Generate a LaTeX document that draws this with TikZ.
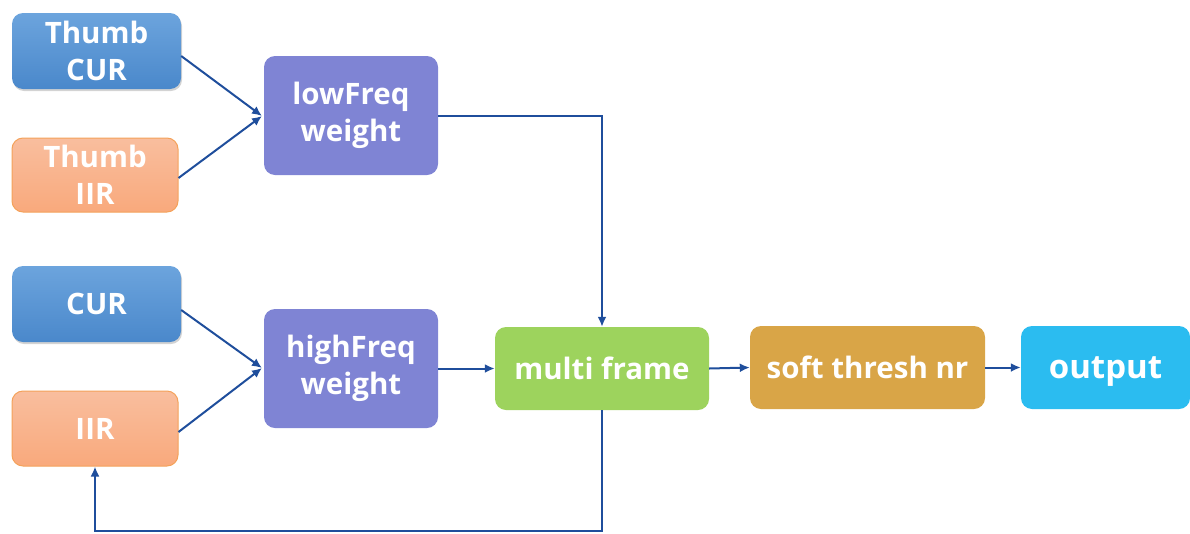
\documentclass[tikz,border=0pt]{standalone}
\usepackage{fontspec}
\setmainfont{Open Sans}
\usetikzlibrary{arrows.meta,shadows}
\definecolor{lineblue}{HTML}{1F4E9C}
\definecolor{bluetop}{HTML}{6CA4DD}
\definecolor{bluebot}{HTML}{4A88CB}
\definecolor{orgtop}{HTML}{F9BE9E}
\definecolor{orgbot}{HTML}{F9A97C}
\definecolor{orgedge}{HTML}{F4A25A}
\definecolor{purp}{HTML}{7F84D4}
\definecolor{grn}{HTML}{9DD35D}
\definecolor{gold}{HTML}{D9A547}
\definecolor{cyan2}{HTML}{2BBCF0}
\tikzset{
  box/.style={rounded corners=11pt, align=center, text=white, font=\bfseries\fontsize{29.5}{37}\selectfont, inner sep=0pt},
  bluebox/.style={box, top color=bluetop, bottom color=bluebot, drop shadow={shadow xshift=1pt, shadow yshift=-2pt, opacity=0.35}},
  orgbox/.style={box, top color=orgtop, bottom color=orgbot, draw=orgedge, line width=1pt},
  conn/.style={draw=lineblue, line width=2pt, -{Latex[length=10pt,width=9pt]}},
}
\begin{document}
\begin{tikzpicture}[x=1pt,y=-1pt]
\useasboundingbox (0,0) rectangle (1190,533);
\node[bluebox, minimum width=169pt, minimum height=76pt] (tcur) at (96.5,51) {Thumb\\CUR};
\node[orgbox, minimum width=166pt, minimum height=74pt] (tiir) at (95,175) {Thumb\\IIR};
\node[bluebox, minimum width=169pt, minimum height=76pt] (cur) at (96.5,304) {CUR};
\node[orgbox, minimum width=166pt, minimum height=75pt] (iir) at (95,428.5) {IIR};
\node[box, fill=purp, minimum width=174pt, minimum height=119pt] (low) at (351,115.5) {lowFreq\\weight};
\node[box, fill=purp, minimum width=174pt, minimum height=119pt] (high) at (351,368.5) {highFreq\\weight};
\node[box, fill=grn, minimum width=214pt, minimum height=83pt, text depth=0pt] (mf) at (602,368.5) {multi frame};
\node[box, fill=gold, minimum width=235pt, minimum height=83pt, text depth=0pt] (st) at (867.5,367.5) {soft thresh nr};
\node[box, fill=cyan2, minimum width=169pt, minimum height=83pt, text depth=0pt, font=\bfseries\fontsize{33}{38}\selectfont] (out) at (1105.5,367.5) {output};
\coordinate (lowin) at (262,116);
\coordinate (highin) at (262,368);
\draw[conn] (tcur.east |- 0,56) -- (lowin);
\draw[conn] (tiir.east |- 0,178) -- (lowin);
\draw[conn] (cur.east |- 0,310) -- (highin);
\draw[conn] (iir.east |- 0,432) -- (highin);
\draw[conn] (low.east) -| (mf.north);
\draw[conn] (high.east) -- (mf.west);
\draw[conn] (mf.east) -- (st.west);
\draw[conn] (st.east) -- (out.west);
\coordinate (fb) at (0,531);
\draw[conn] (mf.south) -- (mf.south |- fb) -| (iir.south);
\end{tikzpicture}
\end{document}
